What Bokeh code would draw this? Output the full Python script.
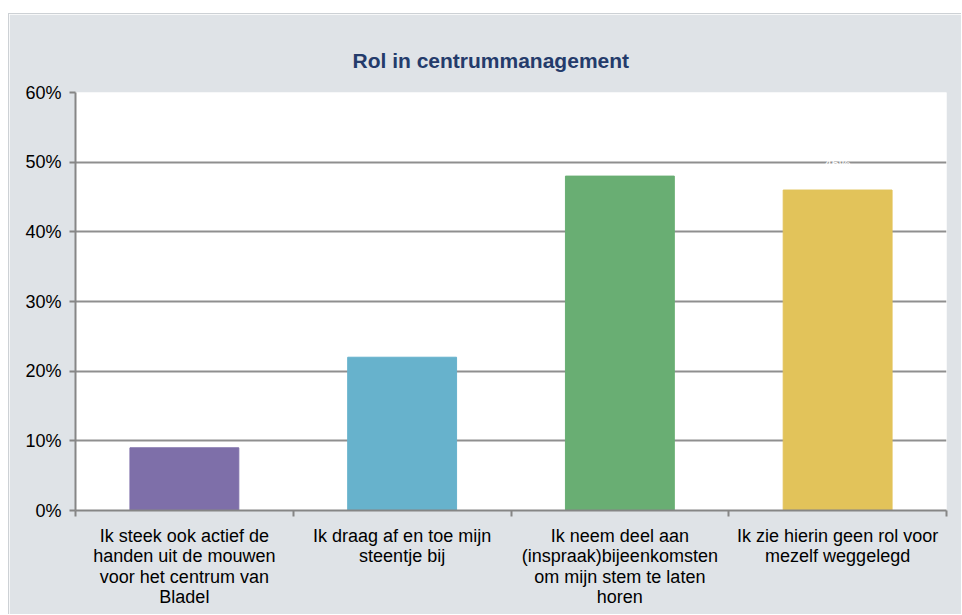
from bokeh.plotting import figure
from bokeh.models import FixedTicker, NumeralTickFormatter, Range1d, ColumnDataSource, Spacer
from bokeh.layouts import column, row
from bokeh.core.properties import value
from bokeh.embed import file_html
from bokeh.resources import INLINE

title_text = "Rol in centrummanagement"
categories = [
    "Ik steek ook actief de\nhanden uit de mouwen\nvoor het centrum van\nBladel",
    "Ik draag af en toe mijn\nsteentje bij",
    "Ik neem deel aan\n(inspraak)bijeenkomsten\nom mijn stem te laten\nhoren",
    "Ik zie hierin geen rol voor\nmezelf weggelegd",
]
values = [0.09, 0.22, 0.48, 0.46]
value_labels = ["9%", "22%", "48%", "46%"]
colors = ["#7e6fa9", "#67b2cc", "#69ae73", "#e2c35a"]
y_ticks = [0.0, 0.1, 0.2, 0.3, 0.4, 0.5, 0.6]

FONT = "Liberation Sans"
xs = [i + 1 for i in range(len(categories))]
src = ColumnDataSource(dict(x=xs, v=values, c=colors, lbl=value_labels))

p = figure(width=953, height=601,
           x_range=Range1d(0.5, len(categories) + 0.5),
           y_range=Range1d(y_ticks[0], y_ticks[-1]),
           output_backend="svg", toolbar_location=None,
           min_border_left=66, min_border_right=16,
           min_border_top=78, min_border_bottom=105,
           background_fill_color="white", border_fill_color="#dfe3e7")

p.vbar(x="x", top="v", width=0.5, color="c", source=src)
p.text(x="x", y="v", text="lbl", text_color="white", text_align="center",
       text_baseline="middle", y_offset=-27, text_font_size="13px",
       text_font=value(FONT), source=src)

p.title.text = title_text
p.title.align = "left"
p.title.offset = 277
p.title.vertical_align = "top"
p.title.standoff = 38
p.title.text_font = FONT
p.title.text_font_size = "21px"
p.title.text_font_style = "bold"
p.title.text_color = "#243b6b"

ax = p.xaxis[0]
ax.ticker = FixedTicker(ticks=xs, minor_ticks=[x - 0.5 for x in xs] + [xs[-1] + 0.5])
ax.major_label_overrides = {x: c for x, c in zip(xs, categories)}
ax.major_tick_line_color = None
ax.minor_tick_line_color = "#868686"
ax.minor_tick_line_width = 2
ax.minor_tick_out = 6
ax.minor_tick_in = 0
ax.axis_line_color = "#868686"
ax.axis_line_width = 2
ax.major_label_text_font = FONT
ax.major_label_text_font_size = "18px"
ax.major_label_text_line_height = 1.03
ax.major_label_text_color = "black"
ax.major_label_standoff = 9

ay = p.yaxis[0]
ay.ticker = FixedTicker(ticks=y_ticks, minor_ticks=[])
ay.formatter = NumeralTickFormatter(format="0%")
ay.major_tick_line_color = "#868686"
ay.major_tick_line_width = 2
ay.major_tick_out = 6
ay.major_tick_in = 0
ay.minor_tick_line_color = None
ay.axis_line_color = "#868686"
ay.axis_line_width = 2
ay.major_label_text_font = FONT
ay.major_label_text_font_size = "18px"
ay.major_label_text_color = "black"
ay.major_label_standoff = 8

p.xgrid.visible = False
p.ygrid.grid_line_color = "#8f8f8f"
p.ygrid.grid_line_width = 2
p.outline_line_color = None
p.styles = {"border-top": "1px solid #cdd1d5", "border-left": "1px solid #cdd1d5"}

layout = row(Spacer(width=8), column(Spacer(height=13), p, spacing=0), spacing=0)
open("out.html", "w").write(file_html(layout, INLINE))
